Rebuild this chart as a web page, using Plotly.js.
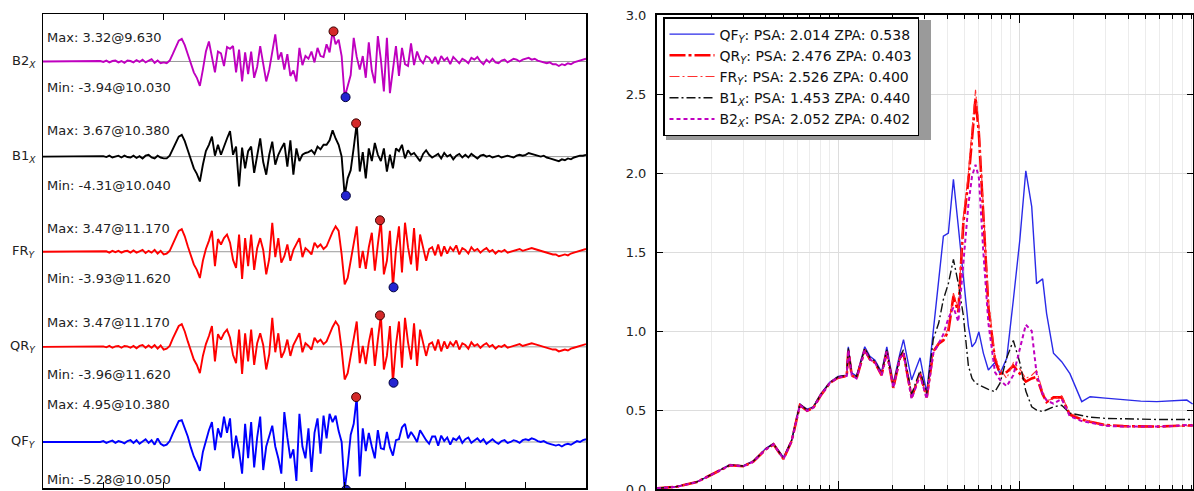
<!DOCTYPE html>
<html><head><meta charset="utf-8">
<script src="https://cdn.plot.ly/plotly-3.0.1.min.js"></script>
<style>html,body{margin:0;padding:0;background:#fff;}#chart{width:1194px;height:491px;}</style>
</head><body><div id="chart"></div>
<script>
// ---------- Left panel: acceleration time histories (sampled every DT seconds) ----------
const DT = 0.1;
const traceNames = ['B2', 'B1', 'FR', 'QR', 'QF'];
const traceSubs  = ['X', 'X', 'Y', 'Y', 'Y'];

const B2X = [
 0,0,0,0,0,0,0,0,0,0,
 0,0,0,0,0,0,0,0,0,0.05,
 -0.05,0.1,-0.1,0.05,0.1,-0.1,0.05,-0.15,0.1,0.05,
 -0.1,0.15,-0.05,0.2,-0.1,0.1,0.25,-0.15,0.1,-0.2,
 -0.1,-0.2,0.1,0.8,1.6,2.3,2.5,1.8,0.8,-0.3,
 -1.2,-1.8,-2.7,-0.9,1.1,2.2,0.5,-1.2,1.1,0.9,
 -0.5,1.6,1.4,1.7,-1.2,1.3,-2.2,1.0,-1.4,1.1,
 -1.8,-0.6,1.7,-0.5,-2.2,-0.9,1.2,3.0,0.2,1.0,
 -0.9,0.8,-1.6,-1.0,-2.2,1.5,-0.4,0.6,0.3,1.1,
 -0.1,1.5,0.6,0.5,1.9,1.0,3.32,1.9,2.4,0.6,
 -3.94,-2.6,-1.5,2.6,0.5,-0.9,0.6,-1.8,2.1,-1.0,
 -2.4,2.8,0.2,-3.3,2.6,-3.5,-0.8,1.7,-1.6,1.5,
 -0.3,-0.5,2.0,-0.4,1.1,0.2,-0.2,0.6,0.4,-0.2,
 0.5,-0.3,0.6,0.1,0.4,-0.3,0.5,0.1,-0.2,0.3,
 0.1,-0.2,0.4,0.2,0.5,0.0,-0.3,0.2,-0.1,0.3,
 -0.1,-0.2,0.1,0.2,-0.1,0.1,0.3,0.2,0.0,0.2,
 0.3,0.4,0.2,0.3,0.1,0.0,-0.1,-0.2,-0.1,-0.3,
 -0.3,-0.5,-0.3,-0.4,-0.2,-0.3,-0.1,0.0,0.1,0.2,
 0.3];
const B1X = [
 0,0,0,0,0,0,0,0,0,0,
 0,0,0,0,0,0,0,0,0,0,
 0.05,-0.05,0.1,-0.1,0.0,0.1,-0.1,0.1,-0.05,-0.1,
 0.1,-0.15,0.05,-0.2,0.1,0.2,-0.1,-0.2,0.1,-0.1,
 -0.2,-0.2,0.1,0.8,1.6,2.2,2.4,1.7,0.7,-0.4,
 -1.3,-1.9,-2.75,-0.9,0.6,1.3,2.2,0.1,1.3,0.2,
 1.2,2.0,2.8,0.2,1.1,-3.3,1.0,-1.3,0.6,1.1,
 -1.8,0.2,2.0,-0.6,-2.0,0.2,1.65,-0.9,0.2,0.9,
 1.5,-1.1,1.8,-2.0,0.9,-0.5,0.2,0.4,0.5,0.7,
 0.3,1.1,0.8,1.3,1.3,1.8,2.9,2.0,1.3,0.0,
 -4.31,-2.4,-1.5,1.0,3.67,-1.65,0.5,-2.4,0.9,-0.5,
 1.5,0.2,-0.5,0.9,-1.65,0.2,-1.3,0.9,0.6,1.3,
 -0.2,0.7,0.2,0.4,-0.1,-0.5,0.3,0.7,0.2,-0.1,
 0.1,0.3,-0.2,0.4,0.0,0.2,-0.3,0.1,0.3,-0.1,
 0.2,-0.1,0.3,0.0,-0.2,0.1,0.2,0.0,0.1,-0.1,
 0.0,0.1,-0.1,0.0,0.1,0.0,-0.1,0.1,0.2,0.1,
 0.2,0.4,0.3,0.2,0.1,0.0,0.1,-0.1,-0.2,-0.3,
 -0.4,-0.5,-0.3,-0.4,-0.2,-0.3,-0.1,0.0,0.1,0.1,
 0.2];
const FRY = [
 0,0,0,0,0,0,0,0,0,0,
 0,0,0,0,0,0,0,0,0,0,
 0,0.05,-0.1,0.1,-0.05,0.1,-0.1,0.05,0.1,-0.1,
 0.15,-0.1,0.05,0.2,-0.15,0.1,-0.1,0.2,-0.2,0.1,
 -0.3,-0.2,0.1,0.9,1.7,2.3,2.5,1.7,0.6,-0.5,
 -1.4,-2.0,-2.9,-1.0,0.3,1.2,2.3,-1.6,1.4,0.8,
 1.5,1.9,1.0,-0.9,-1.8,1.9,-3.0,1.5,-1.6,1.9,
 -2.0,0.4,1.5,0.2,-2.5,-0.8,3.2,-0.6,1.5,-1.2,
 -0.5,0.8,-1.0,0.2,0.8,1.5,-0.6,0.4,0.1,-0.3,
 1.0,0.5,0.8,0.3,0.6,1.5,2.2,2.8,2.3,-0.3,
 -3.6,-2.9,-1.0,1.2,2.8,-1.8,0.1,-1.9,0.5,2.1,
 -2.1,0.8,3.47,-2.5,-1.0,2.3,-3.93,0.2,2.8,-2.3,
 3.2,0.5,-1.4,2.6,-2.1,1.9,0.4,-1.0,0.3,0.5,
 -0.4,0.8,-0.5,0.6,-0.2,0.5,0.1,0.7,-0.3,0.4,
 0.2,-0.2,0.5,0.1,0.3,-0.1,0.2,0.4,0.0,0.2,
 -0.2,0.1,0.0,0.2,-0.1,0.0,0.1,0.2,0.3,0.1,
 0.2,0.3,0.4,0.3,0.2,0.1,0.0,-0.1,-0.2,-0.3,
 -0.3,-0.5,-0.4,-0.3,-0.4,-0.2,-0.1,0.0,0.1,0.2,
 0.3];
const QRY = [
 0,0,0,0,0,0,0,0,0,0,
 0,0,0,0,0,0,0,0,0,0,
 0.05,-0.05,0.1,-0.1,0.05,0.1,-0.1,0.1,0.05,-0.1,
 0.1,-0.15,0.1,0.2,-0.1,0.15,-0.1,0.2,-0.2,0.15,
 -0.3,-0.2,0.1,0.9,1.7,2.3,2.5,1.7,0.6,-0.5,
 -1.4,-2.0,-2.9,-1.0,0.3,1.2,2.3,-1.6,1.4,0.8,
 1.5,1.9,1.0,-0.9,-1.8,1.9,-3.0,1.5,-1.6,1.9,
 -2.0,0.4,1.5,0.2,-2.5,-0.8,3.2,-0.6,1.5,-1.2,
 -0.5,0.8,-1.0,0.2,0.8,1.5,-0.6,0.4,0.1,-0.3,
 1.0,0.5,0.8,0.3,0.6,1.5,2.2,2.8,2.3,-0.3,
 -3.6,-2.9,-1.0,1.2,2.8,-1.8,0.1,-1.9,0.5,2.1,
 -2.1,0.8,3.47,-2.5,-1.0,2.3,-3.96,0.2,2.8,-2.3,
 3.2,0.5,-1.4,2.6,-2.1,1.9,0.4,-1.0,0.3,0.5,
 -0.4,0.8,-0.5,0.6,-0.2,0.5,0.1,0.7,-0.3,0.4,
 0.2,-0.2,0.5,0.1,0.3,-0.1,0.2,0.4,0.0,0.2,
 -0.2,0.1,0.0,0.2,-0.1,0.0,0.1,0.2,0.3,0.1,
 0.2,0.3,0.4,0.3,0.2,0.1,0.0,-0.1,-0.2,-0.3,
 -0.3,-0.5,-0.4,-0.3,-0.4,-0.2,-0.1,0.0,0.1,0.2,
 0.3];
const QFY = [
 0,0,0,0,0,0,0,0,0,0,
 0,0,0,0,0,0,0,0,0,0,
 0.1,-0.1,0.05,0.15,-0.1,0.1,0.0,-0.15,0.1,0.2,
 -0.1,0.2,-0.2,0.1,0.3,-0.1,0.2,-0.3,0.4,-0.2,
 -0.4,-0.3,0.1,0.9,1.7,2.3,2.4,1.6,0.6,-0.6,
 -1.6,-2.3,-3.2,-1.1,0.2,1.3,2.2,-0.9,1.5,0.5,
 2.8,1.0,2.6,-1.8,0.7,-1.0,-3.5,2.0,-1.8,2.2,
 -2.8,0.5,2.8,-3.1,-0.5,0.8,1.8,-0.5,-1.8,-3.5,
 3.3,0.5,-1.8,-0.8,-4.3,3.1,-0.5,-1.8,1.5,-3.3,
 1.0,2.6,-1.3,2.9,0.4,3.1,2.2,2.9,1.2,0.0,
 -5.28,-2.6,0.8,2.0,4.95,-3.8,1.5,-1.0,1.0,-0.5,
 -1.8,1.3,-0.7,-0.8,1.1,-0.6,-1.5,0.2,0.3,1.6,
 2.0,0.4,1.1,0.6,0.0,1.3,0.7,0.2,-0.2,0.6,
 0.6,-0.4,0.7,0.1,0.5,-0.3,0.4,0.2,0.6,-0.1,
 0.3,0.5,-0.1,0.2,0.4,0.0,0.3,-0.2,0.1,0.3,
 0.0,-0.2,0.1,0.2,-0.1,0.0,0.2,0.1,-0.1,0.2,
 0.3,0.2,0.4,0.3,0.1,0.0,0.1,-0.1,-0.2,-0.3,
 -0.4,-0.3,-0.5,-0.3,-0.2,-0.3,-0.1,0.1,0.0,0.2,
 0.3];

const maxVal = [3.32, 3.67, 3.47, 3.47, 4.95];
const maxTime = [9.63, 10.38, 11.17, 11.17, 10.38];
const minVal = [-3.94, -4.31, -3.93, -3.96, -5.28];
const minTime = [10.03, 10.04, 11.62, 11.62, 10.05];

// ---------- Right panel: response spectra ----------
const freq = [0.1, 0.128, 0.166, 0.2, 0.253, 0.3, 0.34, 0.4, 0.44, 0.5,
 0.555, 0.6, 0.616, 0.643, 0.675, 0.731, 0.8, 0.9, 1.0, 1.117,
 1.14, 1.19, 1.265, 1.405, 1.5, 1.6, 1.74, 1.86, 2.02, 2.2,
 2.3, 2.55, 2.84, 3.09, 3.36, 3.6, 3.82, 4.07, 4.34, 4.62,
 4.92, 5.25, 5.5, 5.75, 6.0, 6.35, 6.77, 7.36, 7.85, 8.55,
 9.3, 10.1, 10.9, 11.75, 12.5, 13.5, 14.2, 15.5, 17.2, 19.1,
 22.2, 24.7, 30, 37.7, 47, 57.7, 70, 84.5, 91];
const specQF = [0.005, 0.015, 0.045, 0.09, 0.155, 0.146, 0.178, 0.258, 0.288, 0.2,
 0.31, 0.48, 0.54, 0.52, 0.505, 0.52, 0.6, 0.675, 0.712, 0.72,
 0.9, 0.735, 0.715, 0.9, 0.84, 0.815, 0.74, 0.9, 0.67, 0.86,
 0.945, 0.69, 0.83, 0.61, 0.99, 1.3, 1.6, 1.62, 1.96, 1.66,
 1.37, 1.03, 0.90, 0.93, 0.995, 0.86, 0.753, 0.80, 0.73, 0.827,
 1.196, 1.576, 2.014, 1.787, 1.30, 1.33, 1.11, 0.86, 0.806, 0.73,
 0.553, 0.584, 0.575, 0.563, 0.556, 0.553, 0.556, 0.563, 0.538];
const specQR = [0.005, 0.014, 0.044, 0.09, 0.15, 0.144, 0.173, 0.252, 0.283, 0.19,
 0.305, 0.475, 0.53, 0.515, 0.495, 0.515, 0.59, 0.67, 0.705, 0.715,
 0.88, 0.72, 0.70, 0.88, 0.82, 0.80, 0.72, 0.87, 0.64, 0.83,
 0.86, 0.58, 0.73, 0.58, 0.87, 0.92, 0.94, 1.0, 1.22, 1.12,
 1.68, 1.95, 2.2, 2.476, 2.25, 1.75, 1.15, 0.82, 0.73, 0.74,
 0.78, 0.73, 0.68, 0.70, 0.71, 0.60, 0.55, 0.58, 0.58, 0.47,
 0.44, 0.426, 0.405, 0.398, 0.394, 0.395, 0.399, 0.405, 0.403];
const specFR = [0.005, 0.014, 0.044, 0.09, 0.15, 0.144, 0.173, 0.252, 0.283, 0.19,
 0.305, 0.475, 0.53, 0.515, 0.495, 0.515, 0.59, 0.67, 0.705, 0.715,
 0.88, 0.72, 0.70, 0.88, 0.82, 0.80, 0.72, 0.87, 0.64, 0.83,
 0.86, 0.58, 0.73, 0.58, 0.87, 0.93, 0.95, 1.02, 1.24, 1.14,
 1.72, 2.0, 2.26, 2.526, 2.3, 1.8, 1.2, 0.84, 0.76, 0.70,
 0.80, 0.76, 0.70, 0.72, 0.75, 0.62, 0.56, 0.57, 0.59, 0.48,
 0.445, 0.428, 0.404, 0.396, 0.392, 0.394, 0.397, 0.402, 0.400];
const specB1 = [0.005, 0.015, 0.045, 0.09, 0.152, 0.146, 0.175, 0.255, 0.285, 0.195,
 0.31, 0.48, 0.535, 0.52, 0.50, 0.52, 0.595, 0.673, 0.71, 0.72,
 0.89, 0.73, 0.71, 0.89, 0.83, 0.81, 0.73, 0.88, 0.65, 0.84,
 0.88, 0.60, 0.75, 0.60, 0.95, 1.05, 1.20, 1.30, 1.453, 1.30,
 1.10, 0.78, 0.70, 0.67, 0.66, 0.647, 0.63, 0.616, 0.67, 0.83,
 0.94, 0.80, 0.62, 0.52, 0.50, 0.49, 0.50, 0.52, 0.53, 0.48,
 0.465, 0.455, 0.447, 0.443, 0.441, 0.44, 0.44, 0.44, 0.440];
const specB2 = [0.005, 0.014, 0.044, 0.09, 0.15, 0.144, 0.173, 0.252, 0.283, 0.19,
 0.305, 0.475, 0.53, 0.515, 0.495, 0.515, 0.59, 0.67, 0.705, 0.715,
 0.88, 0.72, 0.70, 0.88, 0.82, 0.80, 0.72, 0.87, 0.64, 0.83,
 0.86, 0.57, 0.72, 0.57, 0.86, 0.92, 0.98, 1.08, 1.15, 1.06,
 1.45, 1.80, 1.98, 2.052, 1.97, 1.5, 1.05, 0.74, 0.69, 0.65,
 0.72, 0.88, 1.04, 1.0, 0.73, 0.6, 0.56, 0.54, 0.57, 0.46,
 0.43, 0.42, 0.40, 0.395, 0.393, 0.395, 0.398, 0.405, 0.402];

const specNames = ['QF', 'QR', 'FR', 'B1', 'B2'];
const specSubs  = ['Y', 'Y', 'Y', 'X', 'X'];
const psa = [2.014, 2.476, 2.526, 1.453, 2.052];
const zpa = [0.538, 0.403, 0.400, 0.440, 0.402];

// ---------- styling / layout (not data) ----------
const W = 1194, H = 491;
const FONT = 'DejaVu Sans, Liberation Sans, sans-serif';
const PX_PER_UNIT = 9.06;
const SPACING = 10.5;
const baseOf = i => (traceNames.length - 1 - i) * SPACING;
const traceSeries = [B2X, B1X, FRY, QRY, QFY];
const traceColors = ['#bf00bf', '#000000', '#ff0000', '#ff0000', '#0000ff'];
const maxLabelPx = [24, 26, 23, 24, 37];
const minLabelPx = [26, 29, 27, 28, 38];

const time = B2X.map((_, i) => Math.round(i * DT * 100) / 100);

const data = [];
const shapes = [];
const annotations = [];

traceNames.forEach((nm, i) => {
  const b = baseOf(i);
  shapes.push({type: 'line', xref: 'x', yref: 'y', x0: 0, x1: 18, y0: b, y1: b,
               line: {color: '#9a9a9a', width: 1}, layer: 'below'});
  data.push({x: time, y: traceSeries[i].map(v => v + b), xaxis: 'x', yaxis: 'y',
             type: 'scatter', mode: 'lines', showlegend: false, hoverinfo: 'skip',
             line: {color: traceColors[i], width: 1.9}});
  annotations.push({xref: 'paper', yref: 'y', x: 38 / W, y: b, xanchor: 'right', yanchor: 'middle',
    text: nm + '<sub><i>' + traceSubs[i] + '</i></sub>', showarrow: false,
    font: {family: FONT, size: 13, color: '#222'}});
  annotations.push({xref: 'x', yref: 'y', x: 0.06, y: b + maxLabelPx[i] / PX_PER_UNIT,
    xanchor: 'left', yanchor: 'middle', showarrow: false,
    text: 'Max: ' + maxVal[i].toFixed(2) + '@' + maxTime[i].toFixed(3),
    font: {family: FONT, size: 13, color: '#222'}});
  annotations.push({xref: 'x', yref: 'y', x: 0.06, y: b - minLabelPx[i] / PX_PER_UNIT,
    xanchor: 'left', yanchor: 'middle', showarrow: false,
    text: 'Min: ' + minVal[i].toFixed(2) + '@' + minTime[i].toFixed(3),
    font: {family: FONT, size: 13, color: '#222'}});
});
// extreme markers
data.push({x: maxTime, y: maxVal.map((v, i) => v + baseOf(i)), xaxis: 'x', yaxis: 'y',
  type: 'scatter', mode: 'markers', showlegend: false, hoverinfo: 'skip',
  marker: {size: 9, color: '#d42a2a', line: {color: '#3a0000', width: 1}}});
data.push({x: minTime, y: minVal.map((v, i) => v + baseOf(i)), xaxis: 'x', yaxis: 'y',
  type: 'scatter', mode: 'markers', showlegend: false, hoverinfo: 'skip',
  marker: {size: 9, color: '#2424d0', line: {color: '#00003a', width: 1}}});

// spectra
const specSeries = [specQF, specQR, specFR, specB1, specB2];
const specLines = [
  {color: '#2a2ae8', width: 1.4},
  {color: '#ff0000', width: 2.6, dash: '16px,3px,3px,3px'},
  {color: '#ff3030', width: 1.1, dash: '10px,3px,2px,3px'},
  {color: '#111111', width: 1.4, dash: '9px,3px,2px,3px'},
  {color: '#c000c0', width: 2.0, dash: '4px,3px'}
];
specNames.forEach((nm, i) => {
  data.push({x: freq, y: specSeries[i], xaxis: 'x2', yaxis: 'y2', type: 'scatter', mode: 'lines',
    name: nm + '<sub><i>' + specSubs[i] + '</i></sub>: PSA: ' + psa[i].toFixed(3) + ' ZPA: ' + zpa[i].toFixed(3),
    hoverinfo: 'skip', line: specLines[i]});
});

// legend shadow
shapes.push({type: 'rect', xref: 'paper', yref: 'paper',
  x0: 666 / W, x1: 931 / W, y0: 1 - 140 / H, y1: 1 - 20 / H,
  fillcolor: '#9a9a9a', line: {width: 0}, layer: 'above'});

const layout = {
  width: W, height: H,
  margin: {l: 0, r: 0, t: 0, b: 0},
  paper_bgcolor: '#ffffff', plot_bgcolor: '#ffffff',
  font: {family: FONT, size: 13, color: '#222'},
  showlegend: true,
  xaxis: {domain: [43 / W, 586 / W], range: [0, 18], showgrid: false, zeroline: false,
    showline: true, linecolor: '#000', linewidth: 1.5, mirror: 'allticks',
    ticks: 'inside', tickvals: [2, 4, 6, 8, 10, 12, 14, 16], ticklen: 6, tickcolor: '#000',
    showticklabels: false, anchor: 'y', fixedrange: true},
  yaxis: {domain: [3 / H, 477 / H], range: [-5.08, 47.24], showgrid: false, zeroline: false,
    showline: true, linecolor: '#000', linewidth: 1.5, mirror: true, ticks: '',
    showticklabels: false, anchor: 'x', fixedrange: true},
  xaxis2: {domain: [657 / W, 1193 / W], type: 'log', range: [-1, 1.961], anchor: 'y2',
    showline: true, linecolor: '#000', linewidth: 2, mirror: 'allticks',
    ticks: 'inside', dtick: 1, ticklen: 8, tickcolor: '#000', showticklabels: false,
    showgrid: true, gridcolor: '#dddddd', zeroline: false,
    minor: {dtick: 'D1', ticks: 'inside', ticklen: 4, tickcolor: '#000', showgrid: true, gridcolor: '#ececec'}},
  yaxis2: {domain: [2 / H, 476 / H], range: [0, 3.0], dtick: 0.5, tickformat: '.1f', anchor: 'x2',
    showline: true, linecolor: '#000', linewidth: 2, mirror: 'allticks',
    ticks: 'inside', ticklen: 6, tickcolor: '#000', ticklabelstandoff: 6, ticklabeloverflow: 'allow',
    showgrid: true, gridcolor: '#dddddd', zeroline: false,
    tickfont: {family: FONT, size: 13, color: '#222'}},
  legend: {x: 663 / W, y: 1 - 17 / H, xanchor: 'left', yanchor: 'top', xref: 'paper', yref: 'paper',
    bgcolor: '#ffffff', bordercolor: '#000', borderwidth: 1.5, itemwidth: 45,
    font: {family: FONT, size: 14, color: '#111'}, tracegroupgap: 0},
  shapes: shapes,
  annotations: annotations
};

Plotly.newPlot('chart', data, layout, {displayModeBar: false, staticPlot: true});
</script>
</body></html>
